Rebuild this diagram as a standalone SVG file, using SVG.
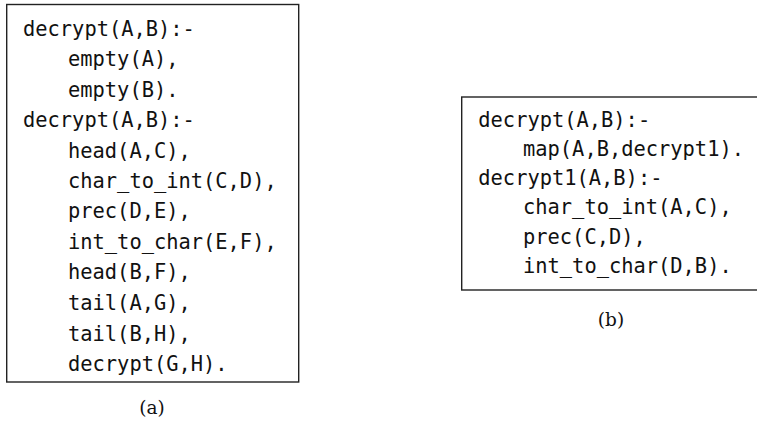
<svg xmlns="http://www.w3.org/2000/svg" width="757" height="427" viewBox="0 0 757 427">
<style>
.box{fill:#fff;stroke:#222;stroke-width:1.4}
.code{font-family:"DejaVu Sans Mono","Liberation Mono",monospace;font-size:20.4px;fill:#111}
.cap{font-family:"DejaVu Serif","Liberation Serif",serif;font-size:18.5px;fill:#111;text-anchor:middle}
</style>
<rect width="757" height="427" fill="#fff"/>
<g id="fig-a">
<rect class="box" x="6.7" y="4.5" width="292" height="377.5"/>
<text class="code" x="23" y="35.5">decrypt(A,B):-</text>
<text class="code" x="68" y="66">empty(A),</text>
<text class="code" x="68" y="96.5">empty(B).</text>
<text class="code" x="23" y="127">decrypt(A,B):-</text>
<text class="code" x="68" y="157.5">head(A,C),</text>
<text class="code" x="68" y="188">char_to_int(C,D),</text>
<text class="code" x="68" y="218">prec(D,E),</text>
<text class="code" x="68" y="248.5">int_to_char(E,F),</text>
<text class="code" x="68" y="279">head(B,F),</text>
<text class="code" x="68" y="310">tail(A,G),</text>
<text class="code" x="68" y="340.5">tail(B,H),</text>
<text class="code" x="68" y="371">decrypt(G,H).</text>
<text class="cap" x="152" y="414">(a)</text>
</g>
<g id="fig-b">
<rect class="box" x="461.7" y="97" width="300" height="193"/>
<text class="code" x="478.3" y="126.7">decrypt(A,B):-</text>
<text class="code" x="523" y="155.9">map(A,B,decrypt1).</text>
<text class="code" x="478.3" y="185.1">decrypt1(A,B):-</text>
<text class="code" x="523" y="214.3">char_to_int(A,C),</text>
<text class="code" x="523" y="243.5">prec(C,D),</text>
<text class="code" x="523" y="272.7">int_to_char(D,B).</text>
<text class="cap" x="611" y="326">(b)</text>
</g>
</svg>
